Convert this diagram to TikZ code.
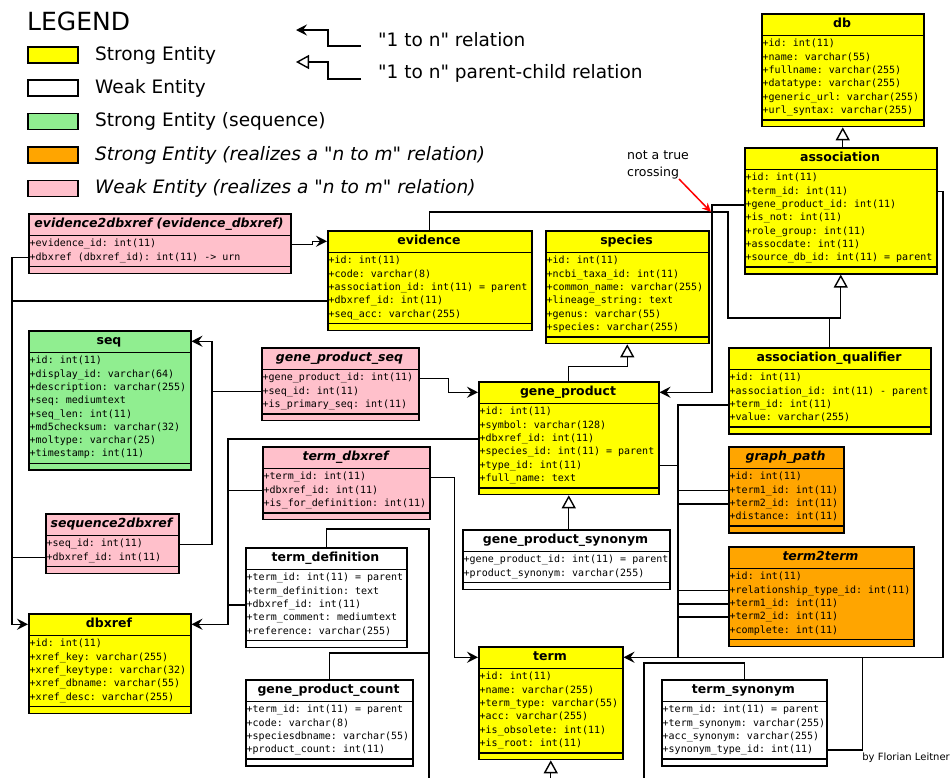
\documentclass[tikz,border=0pt]{standalone}
\usepackage{fontspec}
\setmainfont{DejaVu Sans}
\setmonofont{DejaVu Sans Mono}
\usetikzlibrary{arrows.meta}

\definecolor{entyellow}{RGB}{255,255,0}
\definecolor{entgreen}{RGB}{144,238,144}
\definecolor{entorange}{RGB}{255,165,0}
\definecolor{entpink}{RGB}{255,192,203}

\newcommand\fieldfont{\ttfamily\fontsize{10}{12}\selectfont}
\newcommand\titlefont{\bfseries\fontsize{12.5}{14}\selectfont}
\newcommand\legendfont{\fontsize{18.5}{22}\selectfont}
\newcommand\sq{\textquotedbl}

% \entity{name}{fill}{left}{top}{right}{title}{number of fields}{field list}
\newcommand\entity[8]{%
  \pgfmathsetmacro\entH{22.5+#7*13.3+4.5+6}%
  \pgfmathsetmacro\entW{#5-#3}%
  \node[box, fill=#2, minimum width=\entW, minimum height=\entH, anchor=north west] (#1) at (#3,#4) {};
  \draw[sep] (#3,{#4+22.5}) -- (#5,{#4+22.5});
  \draw[sep] (#3,{#4+22.5+#7*13.3+4.5}) -- (#5,{#4+22.5+#7*13.3+4.5});
  \node[ttl] (#1-t) at ({(#3+#5)/2},{#4+11.25}) {#6};
  \foreach \f [count=\k] in {#8}
    \node[row] (#1-\k) at ({#3+1.5},{#4+31.2+(\k-1)*13.3}) {\f};
}

\begin{document}
\begin{tikzpicture}[x=1pt,y=-1pt,
  box/.style={draw=black, line width=1.5pt, inner sep=0pt},
  sep/.style={line width=1.5pt},
  ttl/.style={font=\titlefont, inner sep=0pt, text height=9.5pt, text depth=2.5pt},
  row/.style={anchor=west, inner sep=0pt, font=\fieldfont, text height=7.6pt, text depth=2.4pt},
  link/.style={line width=1.4pt},
  one/.style={link, -{Stealth[length=11pt,width=11pt,inset=4pt]}},
  parent/.style={link, -{Triangle[length=13pt,width=14pt,fill=white]}},
  swatch/.style={draw=black, line width=1.3pt, minimum width=50pt, minimum height=16pt, inner sep=0pt},
  lgtext/.style={anchor=west, inner sep=0pt, font=\legendfont},
]
\fill[white] (0,0) rectangle (951,777);
\useasboundingbox (0,0) rectangle (951,777);
\clip (0,0) rectangle (951,777);

% ---------- legend ----------
\node[anchor=west, inner sep=0pt, font=\fontsize{25}{28}\selectfont] (legend) at (27,21) {LEGEND};
\node[swatch, fill=entyellow] (sw1) at (53,55) {};
\node[swatch, fill=white]     (sw2) at (53,88) {};
\node[swatch, fill=entgreen]  (sw3) at (53,121.5) {};
\node[swatch, fill=entorange] (sw4) at (53,155) {};
\node[swatch, fill=entpink]   (sw5) at (53,188.5) {};
\node[lgtext] (lg1) at (95,55) {Strong Entity};
\node[lgtext] (lg2) at (95,88) {Weak Entity};
\node[lgtext] (lg3) at (95,121.5) {Strong Entity (sequence)};
\node[lgtext] (lg4) at (95,155) {\itshape Strong Entity (realizes a \sq n to m\sq\ relation)};
\node[lgtext] (lg5) at (95,188.5) {\itshape Weak Entity (realizes a \sq n to m\sq\ relation)};

\coordinate (la1s) at (361,46);
\coordinate (la1t) at (296,30);
\coordinate (la2s) at (361,79);
\coordinate (la2t) at (296,62);
\draw[one] (la1s) -- ++(-33,0) |- (la1t);
\draw[parent] (la2s) -- ++(-33,0) |- (la2t);
\node[lgtext] (lr1) at (378,40) {\sq 1 to n\sq\ relation};
\node[lgtext] (lr2) at (378,73) {\sq 1 to n\sq\ parent-child relation};

% ---------- entities ----------
\entity{db}{entyellow}{761}{13}{923}{db}{6}{%
  +id: int(11), +name: varchar(55), +fullname: varchar(255), +datatype: varchar(255),
  +generic\_url: varchar(255), +url\_syntax: varchar(255)}
\entity{assoc}{entyellow}{744}{147}{936}{association}{7}{%
  +id: int(11), +term\_id: int(11), +gene\_product\_id: int(11), +is\_not: int(11),
  +role\_group: int(11), +assocdate: int(11), +source\_db\_id: int(11) = parent}
\entity{e2d}{entpink}{28}{213}{290}{\itshape evidence2dbxref (evidence\_dbxref)}{2}{%
  +evidence\_id: int(11), +dbxref (dbxref\_id): int(11) -> urn}
\entity{evid}{entyellow}{327}{230}{531}{evidence}{5}{%
  +id: int(11), +code: varchar(8), +association\_id: int(11) = parent,
  +dbxref\_id: int(11), +seq\_acc: varchar(255)}
\entity{species}{entyellow}{545}{230}{708}{species}{6}{%
  +id: int(11), +ncbi\_taxa\_id: int(11), +common\_name: varchar(255),
  +lineage\_string: text, +genus: varchar(55), +species: varchar(255)}
\entity{seq}{entgreen}{28}{330}{190}{seq}{8}{%
  +id: int(11), +display\_id: varchar(64), +description: varchar(255), +seq: mediumtext,
  +seq\_len: int(11), +md5checksum: varchar(32), +moltype: varchar(25), +timestamp: int(11)}
\entity{gps}{entpink}{261}{347}{418}{\itshape gene\_product\_seq}{3}{%
  +gene\_product\_id: int(11), +seq\_id: int(11), +is\_primary\_seq: int(11)}
\entity{aq}{entyellow}{728}{347}{930}{association\_qualifier}{4}{%
  +id: int(11), +association\_id: int(11) - parent, +term\_id: int(11), +value: varchar(255)}
\entity{gp}{entyellow}{478}{381}{658}{gene\_product}{6}{%
  +id: int(11), +symbol: varchar(128), +dbxref\_id: int(11), +species\_id: int(11) = parent,
  +type\_id: int(11), +full\_name: text}
\entity{tdx}{entpink}{262}{446}{429}{\itshape term\_dbxref}{3}{%
  +term\_id: int(11), +dbxref\_id: int(11), +is\_for\_definition: int(11)}
\entity{gpath}{entorange}{728}{446}{843}{\itshape graph\_path}{4}{%
  +id: int(11), +term1\_id: int(11), +term2\_id: int(11), +distance: int(11)}
\entity{s2d}{entpink}{45}{513}{178}{\itshape sequence2dbxref}{2}{%
  +seq\_id: int(11), +dbxref\_id: int(11)}
\entity{gpsyn}{white}{462}{529}{669}{gene\_product\_synonym}{2}{%
  +gene\_product\_id: int(11) = parent, +product\_synonym: varchar(255)}
\entity{t2t}{entorange}{728}{546}{913}{\itshape term2term}{5}{%
  +id: int(11), +relationship\_type\_id: int(11), +term1\_id: int(11), +term2\_id: int(11),
  +complete: int(11)}
\entity{tdef}{white}{245}{547}{406}{term\_definition}{5}{%
  +term\_id: int(11) = parent, +term\_definition: text, +dbxref\_id: int(11),
  +term\_comment: mediumtext, +reference: varchar(255)}
\entity{dbxref}{entyellow}{28}{613}{190}{dbxref}{5}{%
  +id: int(11), +xref\_key: varchar(255), +xref\_keytype: varchar(32),
  +xref\_dbname: varchar(55), +xref\_desc: varchar(255)}
\entity{term}{entyellow}{478}{646}{622}{term}{6}{%
  +id: int(11), +name: varchar(255), +term\_type: varchar(55), +acc: varchar(255),
  +is\_obsolete: int(11), +is\_root: int(11)}
\entity{gpc}{white}{245}{679}{412}{gene\_product\_count}{4}{%
  +term\_id: int(11) = parent, +code: varchar(8), +speciesdbname: varchar(55),
  +product\_count: int(11)}
\entity{tsyn}{white}{661}{679}{826}{term\_synonym}{4}{%
  +term\_id: int(11) = parent, +term\_synonym: varchar(255), +acc\_synonym: varchar(255),
  +synonym\_type\_id: int(11)}

% ---------- routing columns and bends ----------
\coordinate (trunkL) at (12,0);
\coordinate (trunkS) at (212,0);
\coordinate (trunkD) at (228,0);
\coordinate (trunkT) at (678,0);
\coordinate (trunkR) at (943,0);
\coordinate (bendE) at (728,212);
\coordinate (bendQ) at (841,318);
\coordinate (tdown) at (429,529);
\coordinate (sdown) at (644,663);

% ---------- "1 to n" relations ----------
\draw[one] (e2d.east |- e2d-1) -- ++(21,0) |- (evid.west |- evid-t);

\draw[one] (e2d.west |- e2d-2) -- (e2d-2 -| trunkL) |- (dbxref.west |- dbxref-t);
\draw[link] (evid.west |- evid-4) -- (evid-4 -| trunkL);
\draw[link] (s2d.west |- s2d-2) -- (s2d-2 -| trunkL);

\draw[one] (s2d.east |- s2d-1) -- (s2d-1 -| trunkS) |- (seq.east |- seq-t);
\draw[link] (gps.west |- gps-2) -- (gps-2 -| trunkS);

\draw[one] (gps.east |- gps-1) -- ++(29,0) |- (gp.west |- gp-t);

\draw[one] (gp.west |- gp-3) -- (gp-3 -| trunkD) |- (dbxref.east |- dbxref-t);
\draw[link] (tdx.west |- tdx-2) -- (tdx-2 -| trunkD);
\draw[link] (tdef.west |- tdef-3) -- (tdef-3 -| trunkD);

\draw[one] (tdx.east |- tdx-1) -- ++(24,0) |- (term.west |- term-t);

\draw[one] (aq.west |- aq-3) -- (aq-3 -| trunkT) |- (term.east |- term-t);
\draw[link] (gp.east |- gp-5) -- (gp-5 -| trunkT);
\draw[link] (gpath.west |- gpath-2) -- (gpath-2 -| trunkT);
\draw[link] (gpath.west |- gpath-3) -- (gpath-3 -| trunkT);
\draw[link] (t2t.west |- t2t-2) -- (t2t-2 -| trunkT);
\draw[link] (t2t.west |- t2t-3) -- (t2t-3 -| trunkT);
\draw[link] (t2t.west |- t2t-4) -- (t2t-4 -| trunkT);
\draw[link] (assoc.east |- assoc-2) -- (assoc-2 -| trunkR) |- (term-t -| trunkT);
\draw[link] (tsyn.east |- tsyn-4) -- ++(35,0) coordinate (tsynR) -- (tsynR |- term-t);

\draw[one] (assoc.west |- assoc-3) -- ++(-32,0) |- (gp.east |- gp-t);

% ---------- parent-child relations ----------
\draw[parent] (evid.north) |- (bendE) |- (assoc.south |- bendQ) -- (assoc.south);
\draw[link] (aq.north) |- (assoc.south |- bendQ);
\draw[parent] (db.south |- assoc.north) -- (db.south);
\draw[parent] (gp.north) |- ([yshift=-22pt]species.south) -- (species.south);
\draw[parent] (gp.south |- gpsyn.north) -- (gp.south);
\draw[parent] (term.south |- 0,800) -- (term.south);
\draw[link] (tdef.north) |- (tdown) -- (tdown |- 0,800);
\draw[link] (gpc.north) |- (tdown |- 0,653);
\draw[link] (tsyn.north) |- (sdown) -- (sdown |- 0,800);

% ---------- note ----------
\node[anchor=north west, inner sep=0pt, align=left, font=\fontsize{12.5}{17}\selectfont] (note) at (627,151) {not a true\\crossing};
\coordinate (xfrom) at (679,179);
\coordinate (xtip) at (711,212);
\draw[red, line width=1.5pt, -{Stealth[length=9pt,width=8pt]}] (xfrom) -- (xtip);

\node[anchor=east, inner sep=0pt, font=\fontsize{10}{12}\selectfont] (credit) at (950,758) {by Florian Leitner};
\end{tikzpicture}
\end{document}
